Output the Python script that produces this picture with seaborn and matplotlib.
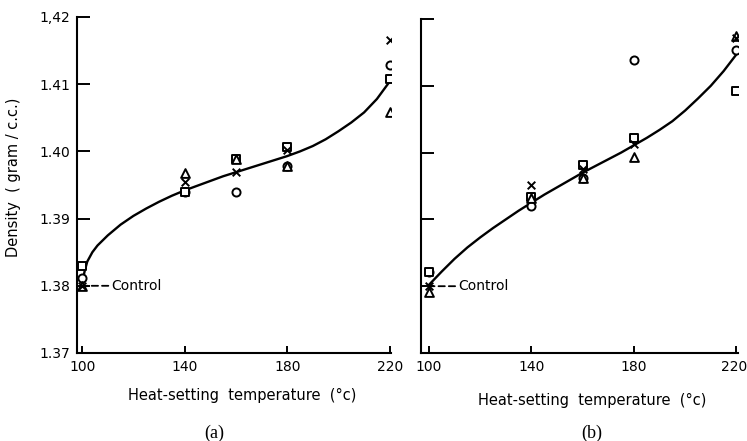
import matplotlib
matplotlib.use("Agg")
import matplotlib.pyplot as plt
import matplotlib.transforms as mtransforms
import seaborn as sns
import pandas as pd

# Heat-setting temperatures (°C) at which density was measured
temps = [100, 140, 160, 180, 220]

# Panel (a): measured densities (g/c.c.), one list per specimen series
a_circle = [1.3812, 1.3940, 1.3940, 1.3978, 1.4128]
a_square = [1.3830, 1.3939, 1.3988, 1.4007, 1.4108]
a_triangle = [1.3800, 1.3968, 1.3988, 1.3978, 1.4058]
a_cross = [1.3800, 1.3955, 1.3970, 1.4002, 1.4166]

# Panel (b): measured densities (g/c.c.)
b_circle = [1.3822, 1.3920, 1.3962, 1.4139, 1.4154]
b_square = [1.3822, 1.3934, 1.3981, 1.4022, 1.4092]
b_triangle = [1.3791, 1.3932, 1.3962, 1.3993, 1.4175]
b_cross = [1.3800, 1.3952, 1.3975, 1.4013, 1.4172]

# Fitted trend curves
a_curve_t = [100, 101, 102, 104, 106, 110, 115, 120, 125, 130, 135, 140, 145,
             150, 155, 160, 165, 170, 175, 180, 185, 190, 195, 200, 205, 210,
             215, 220]
a_curve_d = [1.3805, 1.3822, 1.3836, 1.3850, 1.3860, 1.3875, 1.3891, 1.3904,
             1.3915, 1.3925, 1.3934, 1.3942, 1.3949, 1.3956, 1.3963, 1.3969,
             1.3975, 1.3981, 1.3987, 1.3993, 1.4000, 1.4008, 1.4018, 1.4030,
             1.4043, 1.4058, 1.4078, 1.4104]
b_curve_t = [100, 105, 110, 115, 120, 125, 130, 135, 140, 145, 150, 155, 160,
             165, 170, 175, 180, 185, 190, 195, 200, 205, 210, 215, 220]
b_curve_d = [1.3802, 1.3822, 1.3841, 1.3858, 1.3873, 1.3887, 1.3900, 1.3913,
             1.3925, 1.3937, 1.3948, 1.3959, 1.3970, 1.3980, 1.3990, 1.4000,
             1.4011, 1.4022, 1.4034, 1.4047, 1.4063, 1.4081, 1.4100, 1.4122,
             1.4147]

control_density = 1.380

y_ticks = [1.37, 1.38, 1.39, 1.40, 1.41, 1.42]
y_tick_labels = ["1.37", "1.38", "1.39", "1.40", "1.41", "1,42"]
x_ticks = [100, 140, 180, 220]
x_tick_labels = ["100", "140", "180", "220"]

sns.set_style("white")
plt.rcParams["font.family"] = ["DejaVu Sans"]
for key in ["text.color", "axes.labelcolor", "xtick.color", "ytick.color",
            "axes.edgecolor"]:
    plt.rcParams[key] = "black"

fig = plt.figure(figsize=(7.47, 4.41), dpi=100)
W, H = 747, 441
axA = fig.add_axes([77 / W, 1 - 353 / H, 314 / W, 336 / H])
axB = fig.add_axes([421 / W, 1 - 353 / H, 316.7 / W, 334 / H])


def draw_panel(ax, circle, square, triangle, cross, ct, cd, xmin, ylabels):
    frame = pd.DataFrame({"temp": temps, "circle": circle, "square": square,
                          "triangle": triangle, "cross": cross})
    sns.lineplot(x=ct, y=cd, ax=ax, color="black", lw=1.7, zorder=2)
    for col, mk, size in [("circle", "o", 34), ("square", "s", 34),
                          ("triangle", "^", 40)]:
        sns.scatterplot(data=frame, x="temp", y=col, ax=ax, marker=mk, s=size,
                        facecolor="white", edgecolor="black", linewidth=1.4,
                        zorder=3)
    sns.scatterplot(data=frame, x="temp", y="cross", ax=ax, marker="x", s=30,
                    color="black", linewidth=1.4, zorder=4)
    ax.annotate("Control", xy=(100.6, control_density),
                xytext=(111.5, control_density), va="center", ha="left",
                fontsize=10,
                arrowprops=dict(arrowstyle="-", linestyle=(0, (3.5, 2.2)),
                                lw=1.3, color="black", shrinkA=0, shrinkB=0))
    ax.set_xlim(xmin, 220.5)
    ax.set_ylim(1.37, 1.42)
    ax.set_xticks(x_ticks)
    ax.set_xticklabels(x_tick_labels)
    ax.set_yticks(y_ticks)
    if ylabels:
        ax.set_yticklabels(y_tick_labels)
    else:
        ax.set_yticklabels([])
    ax.set_xlabel("")
    ax.set_ylabel("")
    for side in ["top", "right"]:
        ax.spines[side].set_visible(False)
    for side in ["left", "bottom"]:
        ax.spines[side].set_linewidth(1.5)
        ax.spines[side].set_color("black")
    ax.tick_params(axis="y", direction="in", length=9, width=1.4,
                   labelsize=10, pad=5, left=True)
    ax.tick_params(axis="x", direction="in", length=5, width=1.4,
                   labelsize=10, pad=5, bottom=True)
    ax.set_facecolor("white")


draw_panel(axA, a_circle, a_square, a_triangle, a_cross, a_curve_t, a_curve_d,
           98.0, True)
draw_panel(axB, b_circle, b_square, b_triangle, b_cross, b_curve_t, b_curve_d,
           96.9, False)

# keep the last tick label of panel (b) inside the figure edge
last = axB.get_xticklabels()[-1]
last.set_horizontalalignment("right")
last.set_transform(last.get_transform()
                   + mtransforms.ScaledTranslation(11 / 100, 0,
                                                   fig.dpi_scale_trans))

fig.text(14 / W, 1 - 177 / H, "Density  ( gram / c.c.)", rotation=90,
         ha="center", va="center", fontsize=10.5)
fig.text(242 / W, 1 - 395 / H, "Heat-setting  temperature  (°c)",
         ha="center", va="center", fontsize=10.5)
fig.text(592 / W, 1 - 400 / H, "Heat-setting  temperature  (°c)",
         ha="center", va="center", fontsize=10.5)
fig.text(214 / W, 1 - 433 / H, "(a)", ha="center", va="center", fontsize=13,
         family=["Liberation Serif", "DejaVu Serif"])
fig.text(592 / W, 1 - 433 / H, "(b)", ha="center", va="center", fontsize=13,
         family=["Liberation Serif", "DejaVu Serif"])

fig.savefig("out.png", dpi=100, facecolor="white")
